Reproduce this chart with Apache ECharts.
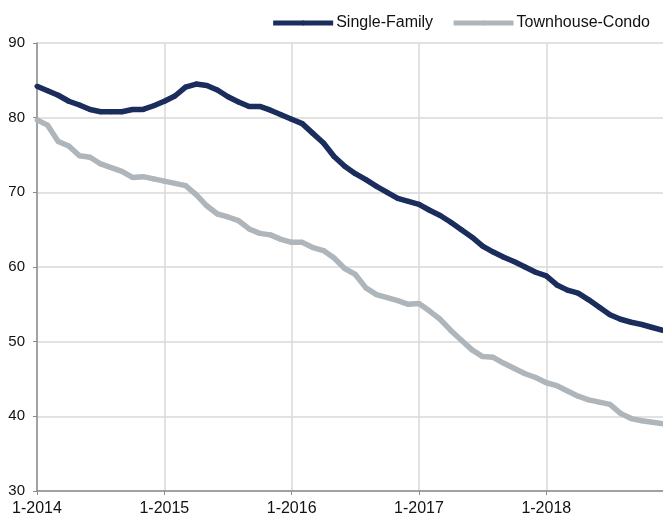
<!DOCTYPE html>
<html>
<head>
<meta charset="utf-8">
<script src="https://cdn.jsdelivr.net/npm/echarts@6/dist/echarts.min.js"></script>
<style>html,body{margin:0;padding:0;background:#fff;}#c{width:663px;height:519px;}</style>
</head>
<body>
<div id="c"></div>
<script>
const years = [2014, 2015, 2016, 2017, 2018];
const categories = [];
years.forEach(y => { for (let m = 1; m <= 12; m++) categories.push(m + '-' + y); });

const singleFamily = [
  84.2, 83.6, 83.0, 82.2, 81.7, 81.1, 80.8, 80.8, 80.8, 81.1, 81.1, 81.6,
  82.2, 82.9, 84.1, 84.5, 84.3, 83.7, 82.8, 82.1, 81.5, 81.5, 81.0, 80.4,
  79.8, 79.2, 77.9, 76.6, 74.8, 73.5, 72.5, 71.7, 70.8, 70.0, 69.2, 68.8,
  68.4, 67.6, 66.9, 66.0, 65.0, 64.0, 62.8, 62.0, 61.3, 60.7, 60.0, 59.3,
  58.8, 57.6, 56.9, 56.5, 55.6, 54.6, 53.6, 53.0, 52.6, 52.3, 51.9, 51.5
];
const townhouseCondo = [
  79.7, 79.0, 76.8, 76.2, 74.9, 74.7, 73.8, 73.3, 72.8, 72.0, 72.1, 71.8,
  71.5, 71.2, 70.9, 69.7, 68.2, 67.1, 66.7, 66.2, 65.1, 64.5, 64.3, 63.7,
  63.3, 63.3, 62.6, 62.2, 61.2, 59.8, 59.0, 57.2, 56.3, 55.9, 55.5, 55.0,
  55.1, 54.1, 53.0, 51.5, 50.2, 48.9, 48.0, 47.9, 47.1, 46.4, 45.7, 45.2,
  44.5, 44.1, 43.4, 42.7, 42.2, 41.9, 41.6, 40.4, 39.7, 39.4, 39.2, 39.0
];
const yTicks = { min: 30, max: 90, interval: 10 };

const font = 'Liberation Sans, Arial, Helvetica, sans-serif';
const chart = echarts.init(document.getElementById('c'), null, { renderer: 'canvas' });
chart.setOption({
  animation: false,
  backgroundColor: '#ffffff',
  textStyle: { fontFamily: font },
  legend: {
    top: 10, right: 8,
    itemWidth: 60, itemHeight: 6, itemGap: 18,
    lineStyle: { width: 5 },
    textStyle: { fontFamily: font, fontSize: 16, color: '#111', padding: [0, 0, 0, -2] },
    data: ['Single-Family', 'Townhouse-Condo']
  },
  grid: { left: 37, top: 43, width: 628, height: 448, containLabel: false },
  xAxis: {
    type: 'category',
    data: categories,
    boundaryGap: false,
    axisLine: { lineStyle: { color: '#8c8c8c', width: 1.5 } },
    axisTick: { show: true, interval: 11, length: 4, lineStyle: { color: '#8c8c8c' } },
    axisLabel: { interval: 11, color: '#111', fontSize: 16, fontFamily: font, margin: 10 },
    splitLine: { show: true, interval: 11, lineStyle: { color: '#d9d9d9', width: 1.5 } }
  },
  yAxis: {
    type: 'value',
    min: yTicks.min, max: yTicks.max, interval: yTicks.interval,
    axisLine: { show: true, lineStyle: { color: '#8c8c8c', width: 1.5 } },
    axisTick: { show: true, length: 4, lineStyle: { color: '#8c8c8c' } },
    axisLabel: { color: '#111', fontSize: 15, fontFamily: font, margin: 12 },
    splitLine: { show: true, lineStyle: { color: '#d9d9d9', width: 1.5 } }
  },
  series: [
    {
      name: 'Single-Family', type: 'line', data: singleFamily,
      symbol: 'circle', symbolSize: 5, showSymbol: true,
      itemStyle: { color: '#1b2d5c' },
      lineStyle: { color: '#1b2d5c', width: 5.5 },
      z: 3
    },
    {
      name: 'Townhouse-Condo', type: 'line', data: townhouseCondo,
      symbol: 'circle', symbolSize: 5, showSymbol: true,
      itemStyle: { color: '#afb6bb' },
      lineStyle: { color: '#afb6bb', width: 5.5 },
      z: 2
    }
  ]
});
</script>
</body>
</html>
